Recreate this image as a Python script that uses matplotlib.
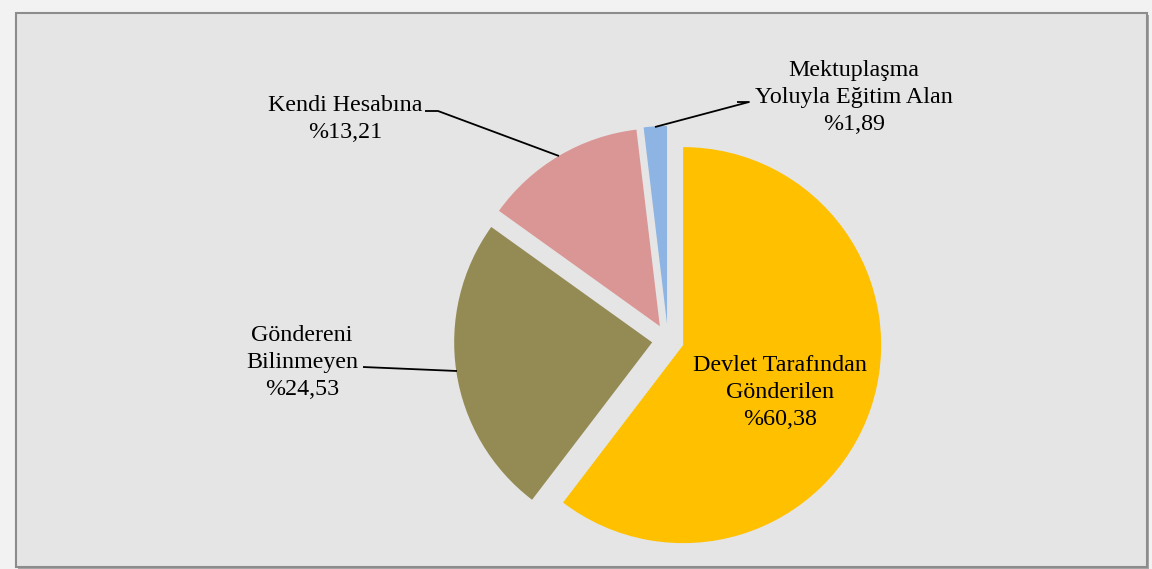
import matplotlib
matplotlib.use("Agg")
import matplotlib.pyplot as plt
from matplotlib.patches import Rectangle

# ---- data ----
categories = ["Devlet Tarafından\nGönderilen", "Göndereni\nBilinmeyen",
              "Kendi Hesabına", "Mektuplaşma\nYoluyla Eğitim Alan"]
values = [60.38, 24.53, 13.21, 1.89]
value_labels = ["%60,38", "%24,53", "%13,21", "%1,89"]
colors = ["#FFC000", "#948A54", "#DA9694", "#8DB4E2"]

W, H = 1152, 569
plt.rcParams['font.family'] = ['Liberation Serif', 'DejaVu Serif']

fig = plt.figure(figsize=(W / 100, H / 100), dpi=100, facecolor="#F2F2F2")
ax = fig.add_axes([0, 0, 1, 1])

def Y(y):
    return H - y

# frame with shadow
ax.add_patch(Rectangle((18, Y(569)), 1131, 554, facecolor="#A6A6A6", edgecolor="none", zorder=0))
ax.add_patch(Rectangle((16, Y(567)), 1131, 554, facecolor="#E5E5E5", edgecolor="#8C8C8C",
                       linewidth=1.5, zorder=1))

radius = 198
explode_px = 16
wedges, _ = ax.pie(values, colors=colors, startangle=90, counterclock=False,
                   center=(668, Y(340)), radius=radius,
                   explode=[explode_px] * len(values),
                   wedgeprops=dict(edgecolor="none", zorder=2), frame=True)
ax.set_xlim(0, W)
ax.set_ylim(0, H)
ax.set_aspect("auto")
ax.axis("off")

# label layout: (x center, first baseline y in px)
label_pos = [(780, 371), (302, 341), (345, 111), (854, 76)]
line_step = 27
for cat, vl, (x, y0) in zip(categories, value_labels, label_pos):
    lines = cat.split("\n") + [vl]
    for i, ln in enumerate(lines):
        ax.text(x, Y(y0 + i * line_step), ln, ha="center", va="baseline",
                fontsize=17.3, color="black", zorder=5)

# leader lines
leaders = [
    [(425, 111), (438, 111), (559, 156)],
    [(737, 102), (749, 102), (655, 127)],
    [(363, 367), (457, 371)],
]
for pts in leaders:
    xs = [p[0] for p in pts]
    ys = [Y(p[1]) for p in pts]
    ax.plot(xs, ys, color="black", linewidth=1.3, zorder=4, solid_capstyle="butt")

fig.savefig("out.png", dpi=100, facecolor=fig.get_facecolor())
